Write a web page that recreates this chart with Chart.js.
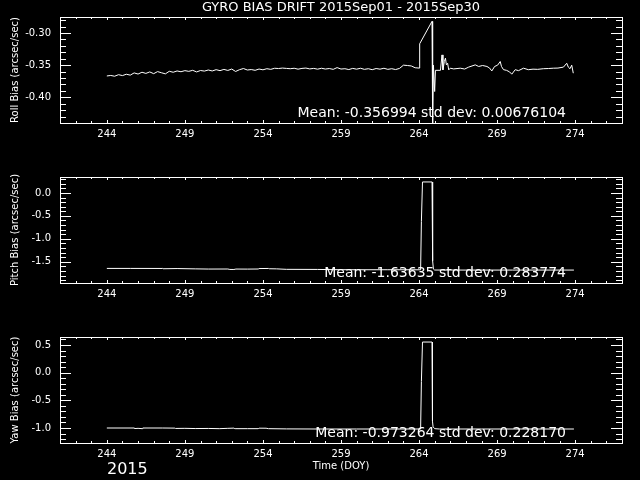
<!DOCTYPE html>
<html><head><meta charset="utf-8">
<script src="https://cdn.jsdelivr.net/npm/chart.js@4/dist/chart.umd.min.js"></script>
<style>
html,body{margin:0;padding:0;background:#000;width:640px;height:480px;overflow:hidden}
.p{position:absolute;left:0;width:640px;height:160px}
</style></head><body>
<div class="p" style="top:0"><canvas id="c1" width="640" height="160"></canvas></div>
<div class="p" style="top:160px"><canvas id="c2" width="640" height="160"></canvas></div>
<div class="p" style="top:320px"><canvas id="c3" width="640" height="160"></canvas></div>
<script>
const titleText = 'GYRO BIAS DRIFT 2015Sep01 - 2015Sep30';
const yearText = '2015';
const xTitle = 'Time (DOY)';
const panelLabels = ['Roll Bias (arcsec/sec)', 'Pitch Bias (arcsec/sec)', 'Yaw Bias (arcsec/sec)'];
const statTexts = ['Mean: -0.356994 std dev: 0.00676104', 'Mean: -1.63635 std dev: 0.283774', 'Mean: -0.973264 std dev: 0.228170'];

const dayTicks = [244, 249, 254, 259, 264, 269, 274];
const rollTicks = [-0.40, -0.35, -0.30];
const rollTickLabels = ['-0.40', '-0.35', '-0.30'];
const pitchTicks = [-1.5, -1.0, -0.5, 0.0];
const pitchTickLabels = ['-1.5', '-1.0', '-0.5', '0.0'];
const yawTicks = [-1.0, -0.5, 0.0, 0.5];
const yawTickLabels = ['-1.0', '-0.5', '0.0', '0.5'];

const rollDays = [244.00,244.25,244.50,244.75,245.00,245.25,245.50,245.75,246.00,246.25,246.50,246.75,247.00,247.25,247.50,247.75,
248.00,248.25,248.50,248.75,249.00,249.25,249.50,249.75,250.00,250.25,250.50,250.75,251.00,251.25,251.50,251.75,
252.00,252.25,252.50,252.75,253.00,253.25,253.50,253.75,254.00,254.25,254.50,254.75,255.00,255.25,255.50,255.75,
256.00,256.25,256.50,256.75,257.00,257.25,257.50,257.75,258.00,258.25,258.50,258.75,259.00,259.25,259.50,259.75,
260.00,260.25,260.50,260.75,261.00,261.25,261.50,261.75,262.00,262.25,262.50,262.75,263.00,263.25,263.50,263.75,264.00,
264.04,264.83,264.87,264.92,265.00,265.05,265.37,265.47,265.53,265.62,265.69,265.75,265.83,265.90,266.00,266.22,266.64,
266.92,267.18,267.60,267.82,268.07,268.35,268.52,268.66,268.84,269.03,269.20,269.28,269.41,269.60,269.80,269.94,270.16,
270.37,270.69,271.00,271.30,271.60,271.96,272.28,272.60,272.90,273.25,273.46,273.56,273.67,273.78,273.88];
const rollBias = [-0.3668,-0.3660,-0.3672,-0.3648,-0.3662,-0.3641,-0.3655,-0.3620,-0.3638,-0.3610,-0.3628,-0.3605,-0.3632,-0.3600,-0.3618,-0.3635,
-0.3595,-0.3610,-0.3590,-0.3602,-0.3585,-0.3596,-0.3580,-0.3605,-0.3583,-0.3592,-0.3575,-0.3590,-0.3570,-0.3585,-0.3566,-0.3582,
-0.3560,-0.3598,-0.3570,-0.3552,-0.3575,-0.3568,-0.3580,-0.3560,-0.3572,-0.3555,-0.3565,-0.3548,-0.3552,-0.3545,-0.3550,-0.3555,
-0.3548,-0.3562,-0.3550,-0.3545,-0.3558,-0.3550,-0.3562,-0.3548,-0.3560,-0.3552,-0.3565,-0.3538,-0.3560,-0.3555,-0.3568,-0.3550,
-0.3562,-0.3548,-0.3565,-0.3555,-0.3570,-0.3552,-0.3562,-0.3548,-0.3565,-0.3555,-0.3568,-0.3550,-0.3500,-0.3505,-0.3512,-0.3540,-0.3545,
-0.3167,-0.2818,-0.4400,-0.3500,-0.3910,-0.3580,-0.3580,-0.3340,-0.3573,-0.3443,-0.3390,-0.3495,-0.3470,-0.3573,-0.3547,-0.3558,-0.3547,
-0.3560,-0.3530,-0.3495,-0.3520,-0.3505,-0.3520,-0.3545,-0.3590,-0.3520,-0.3500,-0.3443,-0.3520,-0.3570,-0.3580,-0.3605,-0.3640,-0.3570,
-0.3585,-0.3547,-0.3570,-0.3562,-0.3565,-0.3555,-0.3552,-0.3547,-0.3545,-0.3530,-0.3470,-0.3530,-0.3555,-0.3500,-0.3625];

const pitchDays = [244.0,245.5,247.58,247.6,248.5,249.66,250.5,251.75,251.88,252.14,252.27,253.0,253.7,253.75,254.36,254.4,254.88,
255.5,257.49,258.5,260.0,262.0,264.1,264.15,264.22,264.83,264.87,264.92,265.0,267.0,270.0,273.92];
const pitchBias = [-1.645,-1.645,-1.646,-1.652,-1.648,-1.655,-1.659,-1.658,-1.667,-1.668,-1.659,-1.660,-1.658,-1.648,-1.646,-1.652,-1.655,
-1.665,-1.667,-1.672,-1.674,-1.674,-1.675,-0.62,0.24,0.24,-1.48,-1.66,-1.68,-1.681,-1.681,-1.681];

const yawDays = [244.0,245.75,245.8,246.0,246.27,246.3,247.58,248.36,248.4,249.0,249.66,250.5,251.2,251.75,252.14,252.2,252.27,253.0,
253.7,253.75,254.2,254.36,255.5,257.5,260.0,262.0,264.1,264.15,264.22,264.83,264.86,264.9,265.0,265.3,268.0,273.92];
const yawBias = [-1.000,-1.000,-1.010,-1.006,-1.012,-1.000,-1.000,-1.002,-1.008,-1.006,-1.010,-1.008,-1.012,-1.006,-1.002,-1.012,-1.012,-1.012,
-1.012,-1.003,-1.004,-1.012,-1.016,-1.018,-1.018,-1.018,-1.018,-0.16,0.554,0.554,-0.88,-0.98,-1.012,-1.018,-1.018,-1.018];

const FONT = 'DejaVu Sans';
const WHITE = '#ffffff';

function framePlugin(cfg) {
  return {
    id: 'frame' + cfg.idx,
    afterDraw(chart) {
      const {ctx, chartArea: a, scales} = chart;
      const x = scales.x, y = scales.y;
      ctx.save();
      ctx.strokeStyle = WHITE;
      ctx.lineWidth = 1;
      ctx.strokeRect(Math.round(a.left) + 0.5, Math.round(a.top) + 0.5, Math.round(a.right - a.left), Math.round(a.bottom - a.top));
      ctx.beginPath();
      for (let d = Math.ceil(x.min); d <= x.max; d++) {
        const px = Math.round(x.getPixelForValue(d)) + 0.5;
        const len = dayTicks.includes(d) ? 3 : 2;
        ctx.moveTo(px, a.top); ctx.lineTo(px, a.top + len);
        ctx.moveTo(px, a.bottom); ctx.lineTo(px, a.bottom - len);
      }
      const n0 = Math.ceil(y.min / cfg.minor - 1e-6), n1 = Math.floor(y.max / cfg.minor + 1e-6);
      for (let k = n0; k <= n1; k++) {
        const v = k * cfg.minor;
        const py = Math.round(y.getPixelForValue(v)) + 0.5;
        const major = cfg.yTicks.some(t => Math.abs(t - v) < cfg.minor / 10);
        const len = major ? 11 : 6;
        ctx.moveTo(a.left, py); ctx.lineTo(a.left + len, py);
        ctx.moveTo(a.right, py); ctx.lineTo(a.right - len, py);
      }
      ctx.stroke();
      ctx.fillStyle = WHITE;
      ctx.font = '14px "' + FONT + '"';
      ctx.textAlign = 'right';
      ctx.textBaseline = 'middle';
      ctx.fillText(cfg.stat, 566, 113);
      if (cfg.year) {
        ctx.textAlign = 'left';
        ctx.font = '16px "' + FONT + '"';
        ctx.fillText(yearText, 107, 150);
      }
      ctx.restore();
    }
  };
}

function makePanel(idx, days, vals, yMin, yMax, yTicks, yLabels, minor) {
  const first = idx === 0, last = idx === 2;
  const tickFont = {family: FONT, size: 10};
  return new Chart(document.getElementById('c' + (idx + 1)), {
    type: 'line',
    data: {datasets: [{
      data: days.map((d, i) => ({x: d, y: vals[i]})),
      borderColor: WHITE, borderWidth: 1, pointRadius: 0, tension: 0, fill: false
    }]},
    options: {
      responsive: false, animation: false, events: [],
      layout: {padding: {left: 0, right: 18, top: first ? 0 : 17, bottom: 0}},
      plugins: {
        legend: {display: false}, tooltip: {enabled: false},
        title: {display: first, text: titleText, color: WHITE, fullSize: false,
          font: {family: FONT, size: 13, weight: 'normal'}, padding: {top: 0, bottom: 1.4}}
      },
      scales: {
        x: {type: 'linear', min: 241, max: 277,
          afterBuildTicks: s => { s.ticks = dayTicks.map(v => ({value: v})); },
          afterFit: s => { s.height = 37; },
          grid: {display: false, drawTicks: false}, border: {display: false},
          ticks: {color: WHITE, font: tickFont, padding: 5, maxRotation: 0, autoSkip: false, callback: v => String(v)},
          title: {display: last, text: xTitle, color: WHITE, font: tickFont, padding: {top: 0, bottom: 8}}
        },
        y: {type: 'linear', min: yMin, max: yMax,
          afterBuildTicks: s => { s.ticks = yTicks.map(v => ({value: v})); },
          afterFit: s => { s.width = 60; },
          grid: {display: false, drawTicks: false}, border: {display: false},
          ticks: {color: WHITE, font: tickFont, padding: 9, callback: (v, i) => yLabels[i]},
          title: {display: true, text: panelLabels[idx], color: WHITE, font: tickFont, padding: {top: 9.5, bottom: 0}}
        }
      }
    },
    plugins: [framePlugin({idx, minor, yTicks, stat: statTexts[idx], year: last})]
  });
}

makePanel(0, rollDays, rollBias, -0.44, -0.275, rollTicks, rollTickLabels, 0.01);
makePanel(1, pitchDays, pitchBias, -1.963, 0.348, pitchTicks, pitchTickLabels, 0.1);
makePanel(2, yawDays, yawBias, -1.271, 0.645, yawTicks, yawTickLabels, 0.1);
</script>
</body></html>
